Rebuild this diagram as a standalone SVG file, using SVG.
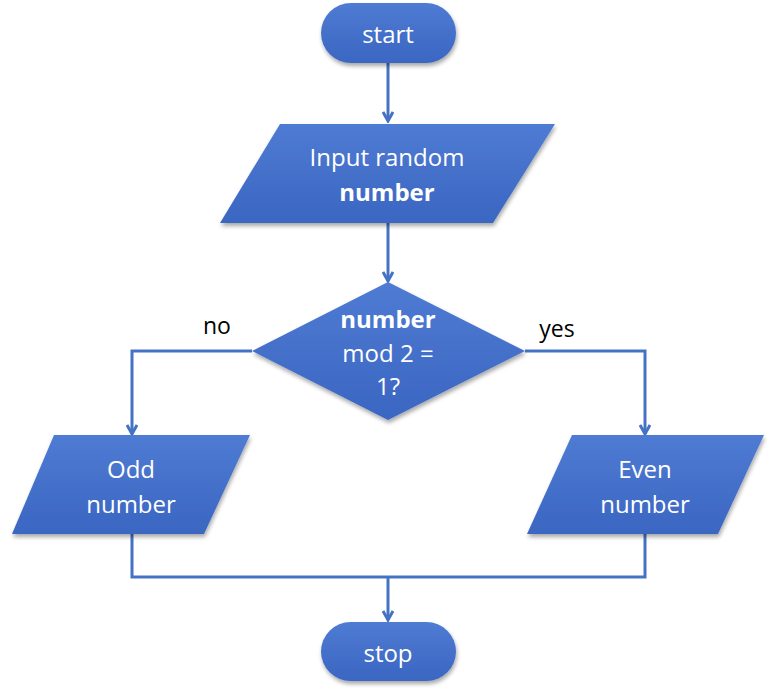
<svg xmlns="http://www.w3.org/2000/svg" width="770" height="689" viewBox="0 0 770 689">
<defs>
<linearGradient id="g" x1="0" y1="0" x2="0" y2="1">
<stop offset="0" stop-color="#4f7bd3"/>
<stop offset="1" stop-color="#3a66c2"/>
</linearGradient>
<filter id="sh" x="-10%" y="-10%" width="125%" height="130%">
<feGaussianBlur in="SourceAlpha" stdDeviation="2"/>
<feOffset dx="1" dy="3"/>
<feComponentTransfer><feFuncA type="linear" slope="0.35"/></feComponentTransfer>
<feMerge><feMergeNode/><feMergeNode in="SourceGraphic"/></feMerge>
</filter>
<marker id="arr" markerWidth="12" markerHeight="12" refX="10" refY="6" orient="auto" markerUnits="userSpaceOnUse">
<path d="M1,1 L10,6 L1,11" fill="none" stroke="#4472c4" stroke-width="3"/>
</marker>
</defs>
<style>
.shape{fill:url(#g);filter:url(#sh);}
.t{font-family:"Open Sans","Noto Sans",sans-serif;font-size:24px;fill:#fff;text-anchor:middle;}
.b{font-weight:bold;}
.lbl{font-family:"Open Sans","Noto Sans",sans-serif;font-size:23px;fill:#000;text-anchor:middle;}
.c{fill:none;stroke:#4472c4;stroke-width:3;}
</style>
<rect width="770" height="689" fill="#fff"/>
<g id="connectors">
<line class="c" x1="388" y1="63" x2="388" y2="121" marker-end="url(#arr)"/>
<line class="c" x1="388" y1="223" x2="388" y2="281" marker-end="url(#arr)"/>
<polyline class="c" points="252,351 132,351 132,434" marker-end="url(#arr)"/>
<polyline class="c" points="525,351 645,351 645,434" marker-end="url(#arr)"/>
<polyline class="c" points="132,534 132,577 645,577 645,534"/>
<line class="c" x1="388" y1="577" x2="388" y2="620" marker-end="url(#arr)"/>
<text class="lbl" x="217" y="334">no</text>
<text class="lbl" x="557" y="337">yes</text>
</g>
<g id="start">
<rect class="shape" x="321" y="3" width="135" height="60" rx="30"/>
<text class="t" x="388" y="43">start</text>
</g>
<g id="input">
<polygon class="shape" points="280,124 555,124 493,223 220,223"/>
<text class="t" x="387" y="166">Input random</text>
<text class="t b" x="387" y="201">number</text>
</g>
<g id="decision">
<polygon class="shape" points="388,282 525,351 388,420 252,351"/>
<text class="t b" x="388" y="328">number</text>
<text class="t" x="388" y="362">mod 2 =</text>
<text class="t" x="388" y="395">1?</text>
</g>
<g id="odd">
<polygon class="shape" points="54,435 250,435 204,534 12,534"/>
<text class="t" x="131" y="478">Odd</text>
<text class="t" x="131" y="513">number</text>
</g>
<g id="even">
<polygon class="shape" points="572,435 764,435 718,534 527,534"/>
<text class="t" x="645" y="478">Even</text>
<text class="t" x="645" y="513">number</text>
</g>
<g id="stop">
<rect class="shape" x="321" y="622" width="135" height="59" rx="29.5"/>
<text class="t" x="388" y="662">stop</text>
</g>
</svg>
